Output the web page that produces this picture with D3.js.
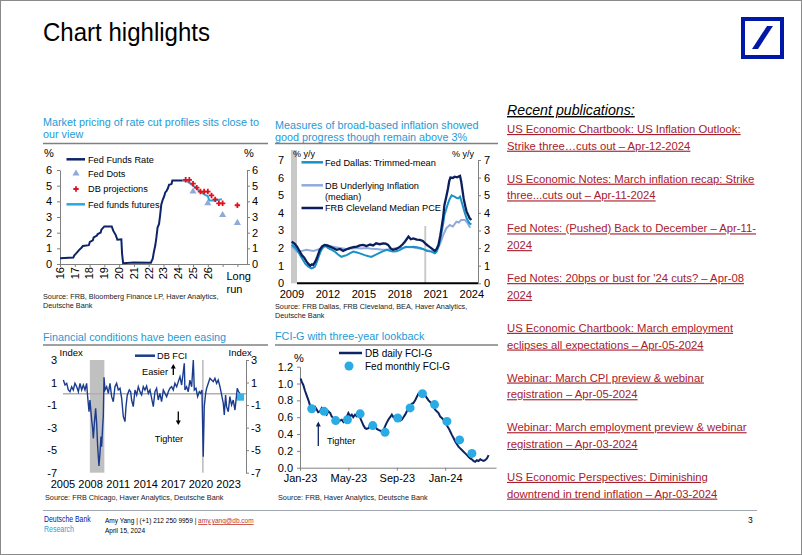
<!DOCTYPE html>
<html><head><meta charset="utf-8">
<script src="https://cdn.jsdelivr.net/npm/d3@7"></script>
<style>
body{margin:0;background:#fff}
text{font-family:"Liberation Sans",Arial,Helvetica,sans-serif}
</style></head>
<body>
<script>
// ---------------- DATA ----------------
// Chart 1: Fed funds
const fedFundsRate = [[2016.0,0.36],[2016.9,0.41],[2016.97,0.55],[2017.08,0.66],[2017.2,0.79],[2017.3,0.9],[2017.45,1.04],[2017.55,1.15],[2017.95,1.2],[2018.02,1.41],[2018.22,1.51],[2018.28,1.69],[2018.5,1.82],[2018.55,1.91],[2018.75,2.0],[2018.8,2.19],[2019.0,2.4],[2019.5,2.4],[2019.6,2.13],[2019.78,1.83],[2019.88,1.55],[2020.15,1.58],[2020.2,0.65],[2020.27,0.05],[2021.0,0.09],[2022.15,0.08],[2022.2,0.2],[2022.27,0.33],[2022.35,0.77],[2022.45,1.21],[2022.52,1.68],[2022.6,2.33],[2022.7,2.56],[2022.77,3.08],[2022.85,3.78],[2022.95,4.1],[2023.05,4.33],[2023.12,4.57],[2023.2,4.65],[2023.3,4.83],[2023.38,5.06],[2023.48,5.08],[2023.55,5.12],[2023.6,5.33],[2024.3,5.33]];
const fedFundsFutures = [[2024.3,5.33],[2024.55,5.3],[2024.9,5.08],[2025.2,4.85],[2025.5,4.6],[2025.85,4.4],[2026.0,4.33],[2026.1,4.05],[2026.5,4.05],[2026.95,4.14]];
const fedDots = [[2025.0,4.625],[2026.0,3.875],[2027.0,3.125],[2028.0,2.625]];
const dbProjections = [[2024.5,5.375],[2024.75,5.375],[2025.0,5.125],[2025.25,4.875],[2025.5,4.625],[2025.75,4.625],[2026.0,4.625],[2026.25,4.375],[2026.5,4.125],[2026.75,3.875],[2027.0,3.875],[2028.0,3.75]];
const c1YearTicks = [2016,2017,2018,2019,2020,2021,2022,2023,2024,2025,2026];
const c1YearLabels = ["16","17","18","19","20","21","22","23","24","25","26"];

// Chart 2: inflation
const clevelandMedianPCE = [[2009.05,2.36],[2009.3,2.25],[2009.5,2.08],[2009.7,1.85],[2009.9,1.6],[2010.1,1.45],[2010.3,1.23],[2010.45,1.1],[2010.6,1.0],[2010.75,1.08],[2010.85,1.04],[2011.0,1.2],[2011.15,1.42],[2011.4,1.9],[2011.6,2.1],[2011.8,2.18],[2012.0,2.15],[2012.25,2.08],[2012.5,2.0],[2012.8,1.9],[2013.1,1.95],[2013.35,1.84],[2013.6,1.92],[2013.9,2.0],[2014.2,2.05],[2014.5,2.08],[2014.75,2.15],[2015.0,2.18],[2015.3,2.12],[2015.6,2.2],[2015.85,2.15],[2016.1,2.27],[2016.4,2.22],[2016.7,2.27],[2016.9,2.25],[2017.1,2.18],[2017.3,2.0],[2017.5,1.9],[2017.8,1.95],[2018.1,2.08],[2018.3,2.2],[2018.5,2.36],[2018.8,2.65],[2019.0,2.5],[2019.2,2.55],[2019.5,2.48],[2019.75,2.46],[2020.0,2.4],[2020.3,2.2],[2020.5,2.1],[2020.7,2.0],[2021.0,1.84],[2021.15,1.95],[2021.3,2.18],[2021.45,2.7],[2021.55,3.12],[2021.7,3.8],[2021.8,4.45],[2021.95,4.9],[2022.1,5.4],[2022.2,5.8],[2022.3,6.0],[2022.5,5.98],[2022.65,6.05],[2022.85,6.02],[2023.1,6.1],[2023.2,5.77],[2023.3,5.3],[2023.4,4.82],[2023.55,4.35],[2023.65,4.07],[2023.8,3.85],[2023.9,3.69],[2024.05,3.6]];
const dallasTrimmedMean = [[2009.05,2.18],[2009.3,2.05],[2009.5,1.9],[2009.75,1.6],[2010.0,1.32],[2010.2,1.1],[2010.45,0.95],[2010.7,0.85],[2010.85,0.88],[2011.0,0.95],[2011.15,1.2],[2011.3,1.5],[2011.5,1.85],[2011.7,2.08],[2011.9,2.1],[2012.1,2.0],[2012.4,1.9],[2012.65,1.8],[2012.9,1.65],[2013.2,1.5],[2013.4,1.55],[2013.65,1.6],[2013.9,1.7],[2014.2,1.8],[2014.5,1.75],[2014.75,1.7],[2015.15,1.6],[2015.4,1.55],[2015.7,1.5],[2016.0,1.6],[2016.3,1.7],[2016.6,1.8],[2017.0,1.9],[2017.25,1.85],[2017.5,1.8],[2017.8,1.82],[2018.1,1.9],[2018.35,2.0],[2018.6,2.08],[2018.9,2.05],[2019.2,2.08],[2019.5,2.05],[2019.75,2.0],[2020.0,1.95],[2020.3,1.84],[2020.7,1.8],[2021.0,1.7],[2021.15,1.8],[2021.3,2.08],[2021.45,2.5],[2021.55,2.84],[2021.7,3.4],[2021.8,3.88],[2021.95,4.2],[2022.1,4.54],[2022.25,4.8],[2022.4,5.0],[2022.55,4.95],[2022.65,4.92],[2022.8,4.85],[2022.95,4.82],[2023.1,4.92],[2023.2,4.7],[2023.35,4.35],[2023.5,4.0],[2023.65,3.69],[2023.8,3.5],[2023.9,3.4],[2024.05,3.35]];
const dbUnderlying = [[2009.05,2.08],[2009.3,1.95],[2009.5,1.8],[2009.9,1.84],[2010.3,1.9],[2010.85,1.84],[2011.4,1.95],[2011.7,2.05],[2011.95,2.18],[2012.2,2.12],[2012.5,2.08],[2013.05,2.0],[2013.6,1.95],[2014.0,1.98],[2014.45,2.0],[2014.9,1.98],[2015.3,2.0],[2015.7,1.96],[2016.1,1.95],[2016.5,1.92],[2016.95,1.9],[2017.4,1.95],[2017.8,2.0],[2018.35,2.02],[2018.9,2.08],[2019.45,2.0],[2020.0,1.95],[2020.55,1.84],[2021.0,1.8],[2021.2,1.95],[2021.4,2.18],[2021.55,2.45],[2021.7,2.74],[2021.95,3.12],[2022.25,3.31],[2022.5,3.22],[2022.8,3.5],[2023.0,3.45],[2023.2,3.6],[2023.5,3.6],[2023.75,3.4],[2023.95,3.16]];
const c2YearTicks = [2009,2012,2015,2018,2021,2024];
const c2Recessions = [[2009.0,2009.5],[2020.12,2020.28]];

// Chart 3: DB FCI
const dbFCI = [[2005.04,1.22],[2005.22,0.78],[2005.4,0.93],[2005.58,0.34],[2005.76,0.19],[2005.94,0.63],[2006.12,0.34],[2006.3,0.93],[2006.49,0.63],[2006.67,0.19],[2006.85,0.93],[2007.03,0.34],[2007.21,0.78],[2007.39,0.34],[2007.57,0.93],[2007.68,-0.25],[2007.83,-1.59],[2007.93,-0.55],[2008.12,-2.33],[2008.22,-3.07],[2008.3,-3.95],[2008.41,-2.62],[2008.55,-1.29],[2008.66,-2.62],[2008.77,-4.69],[2008.91,-6.4],[2009.02,-5.28],[2009.13,-3.8],[2009.2,-4.69],[2009.31,-2.92],[2009.38,-2.03],[2009.46,1.46],[2009.57,0.34],[2009.75,0.63],[2009.93,0.04],[2010.11,0.93],[2010.29,-0.25],[2010.47,-0.7],[2010.65,0.63],[2010.83,0.93],[2011.01,0.34],[2011.2,0.49],[2011.38,-0.4],[2011.56,-2.03],[2011.74,-2.47],[2011.85,-1.14],[2011.99,-0.1],[2012.21,0.34],[2012.36,0.19],[2012.46,-0.55],[2012.64,-1.14],[2012.83,0.34],[2013.01,-0.1],[2013.19,0.63],[2013.37,0.19],[2013.55,-0.1],[2013.73,0.63],[2013.91,0.34],[2014.09,0.69],[2014.28,0.04],[2014.46,0.34],[2014.64,-0.4],[2014.82,-1.14],[2015.0,0.19],[2015.18,0.49],[2015.36,-0.55],[2015.54,0.04],[2015.72,-0.7],[2015.91,0.34],[2016.09,0.04],[2016.27,-0.25],[2016.45,0.19],[2016.63,0.49],[2016.81,0.63],[2016.99,0.34],[2017.17,0.93],[2017.36,0.63],[2017.54,1.08],[2017.72,1.52],[2017.9,0.78],[2018.08,1.96],[2018.19,2.7],[2018.26,0.34],[2018.44,0.63],[2018.62,0.19],[2018.8,1.22],[2018.99,0.63],[2019.17,3.0],[2019.28,0.34],[2019.46,0.49],[2019.64,-0.25],[2019.82,0.19],[2019.96,0.04],[2020.11,0.34],[2020.25,-5.58],[2020.36,-1.14],[2020.51,0.04],[2020.62,0.49],[2020.8,0.93],[2020.98,1.37],[2021.16,1.22],[2021.34,1.08],[2021.52,1.37],[2021.7,0.93],[2021.88,1.22],[2022.07,0.63],[2022.25,-0.1],[2022.43,-0.85],[2022.54,-1.88],[2022.68,-0.1],[2022.79,-1.14],[2022.97,-1.59],[2023.15,-0.25],[2023.33,-1.0],[2023.51,-0.55],[2023.7,-1.44],[2023.8,-0.7],[2023.95,0.49],[2024.09,0.19],[2024.24,0.04]];
const fciLatest = [2024.3,-0.3];
const c3YearTicks = [2005,2008,2011,2014,2017,2020,2023];
const c3Recessions = [[2007.92,2009.5],[2020.12,2020.3]];

// Chart 4: FCI-G (x = months since Jan-23)
const dbDailyFCIG = [[0.05,1.06],[0.15,1.02],[0.28,0.98],[0.4,0.92],[0.55,0.86],[0.7,0.8],[0.83,0.74],[0.95,0.72],[1.1,0.7],[1.25,0.72],[1.38,0.69],[1.5,0.66],[1.66,0.67],[1.8,0.71],[1.93,0.69],[2.05,0.66],[2.2,0.63],[2.35,0.67],[2.5,0.65],[2.62,0.61],[2.76,0.59],[2.9,0.56],[3.03,0.57],[3.2,0.55],[3.45,0.57],[3.6,0.54],[3.72,0.55],[3.85,0.6],[4.0,0.65],[4.15,0.61],[4.28,0.63],[4.4,0.6],[4.55,0.63],[4.7,0.61],[4.83,0.63],[4.95,0.6],[5.1,0.55],[5.25,0.5],[5.38,0.47],[5.5,0.46],[5.66,0.47],[5.8,0.5],[5.93,0.51],[6.05,0.48],[6.2,0.49],[6.35,0.46],[6.48,0.45],[6.62,0.44],[6.76,0.43],[6.9,0.45],[7.03,0.49],[7.15,0.53],[7.3,0.57],[7.45,0.6],[7.59,0.63],[7.72,0.6],[7.86,0.61],[8.0,0.58],[8.14,0.59],[8.28,0.56],[8.41,0.57],[8.55,0.6],[8.69,0.63],[8.83,0.67],[8.97,0.7],[9.1,0.72],[9.24,0.76],[9.38,0.77],[9.52,0.8],[9.65,0.84],[9.79,0.88],[9.93,0.86],[10.07,0.9],[10.2,0.87],[10.34,0.86],[10.48,0.83],[10.62,0.8],[10.76,0.78],[10.9,0.76],[11.03,0.72],[11.17,0.69],[11.3,0.67],[11.45,0.65],[11.58,0.61],[11.72,0.59],[11.86,0.57],[12.0,0.55],[12.14,0.5],[12.28,0.47],[12.42,0.43],[12.55,0.39],[12.7,0.35],[12.83,0.31],[12.97,0.28],[13.1,0.25],[13.24,0.23],[13.38,0.21],[13.52,0.19],[13.66,0.17],[13.8,0.15],[13.93,0.13],[14.07,0.11],[14.2,0.1],[14.34,0.08],[14.48,0.07],[14.62,0.09],[14.76,0.08],[14.9,0.1],[15.03,0.09],[15.17,0.08],[15.3,0.09],[15.45,0.11],[15.59,0.15]];
const fedMonthlyFCIG = [[0.97,0.70],[1.99,0.67],[2.95,0.56],[3.92,0.57],[4.97,0.64],[6.01,0.50],[7.03,0.42],[8.08,0.59],[9.1,0.71],[10.12,0.88],[11.12,0.75],[12.14,0.55],[13.19,0.33],[14.21,0.17]];
const c4MonthTicks = [0,4,8,12];
const c4MonthLabels = ["Jan-23","May-23","Sep-23","Jan-24"];

// Publications
const publications = [
 ["US Economic Chartbook: US Inflation Outlook:","Strike three…cuts out – Apr-12-2024"],
 ["US Economic Notes: March inflation recap: Strike","three...cuts out – Apr-11-2024"],
 ["Fed Notes: (Pushed) Back to December – Apr-11-","2024"],
 ["Fed Notes: 20bps or bust for '24 cuts? – Apr-08","2024"],
 ["US Economic Chartbook: March employment","eclipses all expectations – Apr-05-2024"],
 ["Webinar: March CPI preview & webinar","registration – Apr-05-2024"],
 ["Webinar: March employment preview & webinar","registration – Apr-03-2024"],
 ["US Economic Perspectives: Diminishing","downtrend in trend inflation – Apr-03-2024"]
];

// ---------------- DRAW ----------------
const W = 802, H = 555;
const svg = d3.select("body").append("svg").attr("width", W).attr("height", H);
const TITLE_BLUE = "#1d9ad6", GRAY = "#808080";
const intFmt = d => String(d);

function T(g, x, y, s, o = {}) {
  const t = g.append("text").attr("x", x).attr("y", y).text(s)
    .attr("font-size", o.fs || 11).attr("fill", o.fill || "#000");
  if (o.anchor) t.attr("text-anchor", o.anchor);
  if (o.tl) t.attr("textLength", o.tl).attr("lengthAdjust", "spacingAndGlyphs");
  if (o.italic) t.attr("font-style", "italic");
  if (o.ul) t.attr("text-decoration", "underline");
  return t;
}
function styleAxis(g, fs, keepDomain) {
  g.attr("font-family", null).attr("font-size", fs);
  g.selectAll(".tick text").attr("fill", "#000");
  g.selectAll(".tick line").attr("stroke", GRAY);
  if (keepDomain) g.select(".domain").attr("stroke", GRAY);
  else g.select(".domain").remove();
}

svg.append("rect").attr("x", 0.5).attr("y", 0.5).attr("width", W - 1).attr("height", H - 1)
  .attr("fill", "#fff").attr("stroke", "#8a8a8a");

// Header
T(svg, 43, 41, "Chart highlights", { fs: 26, tl: 167 });
svg.append("rect").attr("x", 743).attr("y", 19).attr("width", 39).attr("height", 38)
  .attr("fill", "none").attr("stroke", "#0018a8").attr("stroke-width", 4);
svg.append("polygon").attr("points", "752,49 758,49 773,26 767,26").attr("fill", "#0018a8");

// Section titles + rules
function sectionTitle(x, lines, y0, ruleY, x2) {
  lines.forEach((l, i) => T(svg, x, y0 + i * 12, l, { fs: 10.8, fill: TITLE_BLUE }));
  svg.append("line").attr("x1", x).attr("x2", x2).attr("y1", ruleY).attr("y2", ruleY)
    .attr("stroke", GRAY).attr("stroke-width", 1.5);
}
sectionTitle(43, ["Market pricing of rate cut profiles sits close to", "our view"], 126, 143.5, 268);
sectionTitle(275, ["Measures of broad-based inflation showed", "good progress though remain above 3%"], 129, 143.5, 498);
sectionTitle(43, ["Financial conditions have been easing"], 340.5, 345, 268);
sectionTitle(275, ["FCI-G with three-year lookback"], 340, 345, 498);

// Source lines
function src(x, lines, y0) { lines.forEach((l, i) => T(svg, x, y0 + i * 9, l, { fs: 7.3, fill: "#222" })); }
src(43, ["Source: FRB, Bloomberg Finance LP, Haver Analytics,", "Deutsche Bank"], 298.5);
src(275, ["Source: FRB Dallas, FRB Cleveland, BEA, Haver Analytics,", "Deutsche Bank"], 309);
src(45, ["Source: FRB Chicago, Haver Analytics, Deutsche Bank"], 500);
src(278, ["Source: FRB, Haver Analytics, Deutsche Bank"], 499.5);

// ===== Chart 1 =====
{
  const g = svg.append("g");
  const x = d3.scaleLinear().domain([2016, 2028.65]).range([60, 247]);
  const y = d3.scaleLinear().domain([0, 6]).range([264, 170]);
  const la = g.append("g").attr("transform", "translate(60,0)")
    .call(d3.axisLeft(y).tickValues(d3.range(0, 7)).tickSize(3).tickSizeOuter(0).tickPadding(5).tickFormat(intFmt));
  styleAxis(la, 11, true);
  const ra = g.append("g").attr("transform", "translate(247,0)")
    .call(d3.axisRight(y).tickValues(d3.range(0, 7)).tickSize(3).tickSizeOuter(0).tickPadding(2).tickFormat(intFmt));
  styleAxis(ra, 11, true);
  const ba = g.append("g").attr("transform", "translate(0,264)")
    .call(d3.axisBottom(x).tickValues(c1YearTicks.concat([2027, 2028])).tickSize(3).tickSizeOuter(0).tickFormat(""));
  styleAxis(ba, 11, true);
  c1YearTicks.forEach((yr, i) => {
    g.append("text").attr("transform", `translate(${x(yr)},267) rotate(-90)`)
      .attr("text-anchor", "end").attr("dy", "0.35em").attr("font-size", 11).text(c1YearLabels[i]);
  });
  T(g, 226.5, 279.5, "Long", { fs: 11 });
  T(g, 226.5, 292.5, "run", { fs: 11 });
  T(g, 49, 157, "%", { fs: 11, anchor: "middle" });
  T(g, 249, 157, "%", { fs: 11, anchor: "middle" });

  const line = d3.line().x(d => x(d[0])).y(d => y(d[1]));
  g.append("path").datum(fedFundsRate).attr("d", line).attr("fill", "none").attr("stroke", "#0d2468").attr("stroke-width", 2);
  g.append("path").datum(fedFundsFutures).attr("d", line).attr("fill", "none").attr("stroke", "#27a8e0").attr("stroke-width", 2);
  const tri = d3.symbol().type(d3.symbolTriangle).size(22);
  g.selectAll(".dot").data(fedDots).join("path").attr("transform", d => `translate(${x(d[0])},${y(d[1])})`)
    .attr("d", tri).attr("fill", "#8eaad9");
  const cross = d3.symbol().type(d3.symbolCross).size(16);
  g.selectAll(".proj").data(dbProjections).join("path").attr("transform", d => `translate(${x(d[0])},${y(d[1])})`)
    .attr("d", cross).attr("fill", "#e3101b");

  // legend
  g.append("line").attr("x1", 66.5).attr("x2", 85).attr("y1", 159.3).attr("y2", 159.3).attr("stroke", "#0d2468").attr("stroke-width", 2.5);
  T(g, 88, 162.5, "Fed Funds Rate", { fs: 9.2 });
  g.append("path").attr("transform", "translate(76,173.5)").attr("d", tri).attr("fill", "#8eaad9");
  T(g, 88, 176.5, "Fed Dots", { fs: 9.2 });
  g.append("path").attr("transform", "translate(76,189)").attr("d", cross).attr("fill", "#e3101b");
  T(g, 88, 192, "DB projections", { fs: 9.2 });
  g.append("line").attr("x1", 66.5).attr("x2", 85).attr("y1", 204.3).attr("y2", 204.3).attr("stroke", "#27a8e0").attr("stroke-width", 2.5);
  T(g, 88, 207.5, "Fed funds futures", { fs: 9.2 });
}

// ===== Chart 2 =====
{
  const g = svg.append("g");
  const x = d3.scaleLinear().domain([2009, 2024.6]).range([291, 478]);
  const y = d3.scaleLinear().domain([0, 7]).range([283.3, 160]);
  g.selectAll(".rec").data(c2Recessions).join("rect")
    .attr("x", d => x(d[0])).attr("width", d => Math.max(1.5, x(d[1]) - x(d[0])))
    .attr("y", 150).attr("height", 283.3 - 150).attr("fill", "#c9c9c9");
  // legend background
  g.append("rect").attr("x", 299).attr("y", 150).attr("width", 142).attr("height", 76).attr("fill", "#fff");
  const la = g.append("g").attr("transform", "translate(291,0)")
    .call(d3.axisLeft(y).tickValues(d3.range(0, 8)).tickSize(0).tickPadding(7).tickFormat(intFmt));
  styleAxis(la, 11, false);
  const ra = g.append("g").attr("transform", "translate(478,0)")
    .call(d3.axisRight(y).tickValues(d3.range(0, 8)).tickSize(3).tickSizeOuter(0).tickPadding(3).tickFormat(intFmt));
  styleAxis(ra, 11, true);
  g.append("line").attr("x1", 297).attr("x2", 478).attr("y1", 283.3).attr("y2", 283.3).attr("stroke", "#000").attr("stroke-width", 2);
  c2YearTicks.forEach(yr => T(g, x(yr) + 1, 298, String(yr), { fs: 11, anchor: "middle" }));
  T(g, 293, 156.5, "% y/y", { fs: 9 });
  T(g, 452, 156.5, "% y/y", { fs: 9 });

  const line = d3.line().x(d => x(d[0])).y(d => y(d[1]));
  g.append("path").datum(dbUnderlying).attr("d", line).attr("fill", "none").attr("stroke", "#8faadc").attr("stroke-width", 2);
  g.append("path").datum(dallasTrimmedMean).attr("d", line).attr("fill", "none").attr("stroke", "#1a91c9").attr("stroke-width", 2);
  g.append("path").datum(clevelandMedianPCE).attr("d", line).attr("fill", "none").attr("stroke", "#0b1f5c").attr("stroke-width", 2.3);

  const leg = [["Fed Dallas: Trimmed-mean", "#1a91c9", 162.3], ["DB Underlying Inflation", "#8faadc", 185.3], ["FRB Cleveland Median PCE", "#0b1f5c", 208]];
  leg.forEach(([t, c, yy]) => {
    g.append("line").attr("x1", 301.5).attr("x2", 323).attr("y1", yy).attr("y2", yy).attr("stroke", c).attr("stroke-width", 2.5);
    T(g, 325, yy + 3.3, t, { fs: 9.2 });
  });
  T(g, 325, 200, "(median)", { fs: 9.2 });
}

// ===== Chart 3 =====
{
  const g = svg.append("g");
  const x = d3.scaleLinear().domain([2005, 2024.9]).range([63, 246]);
  const y = d3.scaleLinear().domain([-7, 3]).range([472.7, 360]);
  g.selectAll(".rec").data(c3Recessions).join("rect")
    .attr("x", d => x(d[0])).attr("width", d => Math.max(1.5, x(d[1]) - x(d[0])))
    .attr("y", 360).attr("height", 472.7 - 360).attr("fill", "#c0c0c0");
  g.append("line").attr("x1", 63).attr("x2", 246).attr("y1", y(0)).attr("y2", y(0)).attr("stroke", "#b0b0b0").attr("stroke-width", 1.5);
  const ticks = [3, 1, -1, -3, -5, -7];
  const la = g.append("g").attr("transform", "translate(63,0)")
    .call(d3.axisLeft(y).tickValues(ticks).tickSize(0).tickPadding(6).tickFormat(intFmt));
  styleAxis(la, 11, false);
  const ra = g.append("g").attr("transform", "translate(246,0)")
    .call(d3.axisRight(y).tickValues(ticks).tickSize(3).tickSizeOuter(0).tickPadding(2).tickFormat(intFmt));
  styleAxis(ra, 11, true);
  c3YearTicks.forEach(yr => T(g, x(yr), 488, String(yr), { fs: 11, anchor: "middle" }));
  T(g, 59.5, 355.5, "Index", { fs: 9.5 });
  T(g, 228.5, 355.5, "Index", { fs: 9.5 });

  const line = d3.line().x(d => x(d[0])).y(d => y(d[1]));
  g.append("path").datum(dbFCI).attr("d", line).attr("fill", "none").attr("stroke", "#1b3c8e").attr("stroke-width", 1.4);
  g.append("rect").attr("x", x(fciLatest[0]) - 3.5).attr("y", y(fciLatest[1]) - 3.5).attr("width", 7).attr("height", 7).attr("fill", "#33b5e8");

  g.append("line").attr("x1", 135).attr("x2", 155).attr("y1", 355.7).attr("y2", 355.7).attr("stroke", "#1b3c8e").attr("stroke-width", 2.5);
  T(g, 157, 359, "DB FCI", { fs: 9.2 });
  // annotations
  T(g, 142, 375, "Easier", { fs: 9.2 });
  g.append("line").attr("x1", 173.3).attr("x2", 173.3).attr("y1", 375).attr("y2", 368).attr("stroke", "#000").attr("stroke-width", 1.3);
  g.append("polygon").attr("points", "170.8,368.5 175.8,368.5 173.3,364").attr("fill", "#000");
  g.append("line").attr("x1", 178.3).attr("x2", 178.3).attr("y1", 411.5).attr("y2", 421).attr("stroke", "#000").attr("stroke-width", 1.3);
  g.append("polygon").attr("points", "175.8,420.5 180.8,420.5 178.3,425").attr("fill", "#000");
  T(g, 169, 442, "Tighter", { fs: 9.2, anchor: "middle" });
}

// ===== Chart 4 =====
{
  const g = svg.append("g");
  const x = d3.scaleLinear().domain([0, 16.2]).range([300, 496]);
  const y = d3.scaleLinear().domain([0, 1.2]).range([467.7, 366.7]);
  const la = g.append("g").attr("transform", "translate(300,0)")
    .call(d3.axisLeft(y).tickValues(d3.range(0, 1.21, 0.2)).tickSize(3).tickSizeOuter(0).tickPadding(4).tickFormat(d3.format(".1f")));
  styleAxis(la, 11, true);
  const ba = g.append("g").attr("transform", "translate(0,467.7)")
    .call(d3.axisBottom(x).tickValues(c4MonthTicks).tickSize(3).tickSizeOuter(0).tickPadding(4).tickFormat((d, i) => c4MonthLabels[i]));
  styleAxis(ba, 11, true);
  T(g, 299, 361.5, "%", { fs: 11, anchor: "middle" });

  const line = d3.line().x(d => x(d[0])).y(d => y(d[1]));
  g.append("path").datum(dbDailyFCIG).attr("d", line).attr("fill", "none").attr("stroke", "#0c2463").attr("stroke-width", 2);
  g.selectAll(".fd").data(fedMonthlyFCIG).join("circle").attr("cx", d => x(d[0])).attr("cy", d => y(d[1]))
    .attr("r", 4.5).attr("fill", "#2aabe3");

  g.append("line").attr("x1", 339).attr("x2", 362).attr("y1", 353).attr("y2", 353).attr("stroke", "#0c2463").attr("stroke-width", 2.5);
  T(g, 365, 356.5, "DB daily FCI-G", { fs: 10 });
  g.append("circle").attr("cx", 349).attr("cy", 366).attr("r", 4.5).attr("fill", "#2aabe3");
  T(g, 365, 369.5, "Fed monthly FCI-G", { fs: 10 });
  // Tighter arrow
  g.append("line").attr("x1", 318.3).attr("x2", 318.3).attr("y1", 446).attr("y2", 426).attr("stroke", "#0c2463").attr("stroke-width", 1.3);
  g.append("polygon").attr("points", "315.8,426.5 320.8,426.5 318.3,421.5").attr("fill", "#0c2463");
  T(g, 327, 443.5, "Tighter", { fs: 9.2 });
}

// ===== Publications =====
{
  const g = svg.append("g");
  T(g, 507, 115, "Recent publications:", { fs: 14.2, italic: true, ul: true });
  publications.forEach((p, i) => {
    const b = 133 + i * 49.7;
    T(g, 507, b, p[0], { fs: 11.3, fill: "#a8202d", ul: true });
    T(g, 507, b + 16.7, p[1], { fs: 11.3, fill: "#a8202d", ul: true });
  });
}

// ===== Footer =====
svg.append("line").attr("x1", 43).attr("x2", 757).attr("y1", 510.5).attr("y2", 510.5).attr("stroke", "#a0a7b0").attr("stroke-width", 1);
{
  const f1 = svg.append("g").attr("transform", "translate(44,522) scale(1,1.25)");
  T(f1, 0, 0, "Deutsche Bank", { fs: 6.9, fill: "#0018a8" });
  const f2 = svg.append("g").attr("transform", "translate(44,532) scale(1,1.25)");
  T(f2, 0, 0, "Research", { fs: 7.0, fill: "#18a3dd" });
  const f3 = svg.append("g").attr("transform", "translate(105,523) scale(1,1.25)");
  const t = f3.append("text").attr("x", 0).attr("y", 0).attr("font-size", 6.5);
  t.append("tspan").attr("fill", "#000").text("Amy Yang | (+1) 212 250 9959 | ");
  t.append("tspan").attr("fill", "#c0392b").attr("text-decoration", "underline").text("amy.yang@db.com");
  const f4 = svg.append("g").attr("transform", "translate(105,533) scale(1,1.25)");
  T(f4, 0, 0, "April 15, 2024", { fs: 6.5 });
}
T(svg, 748, 523, "3", { fs: 8.5 });
</script>
</body></html>
